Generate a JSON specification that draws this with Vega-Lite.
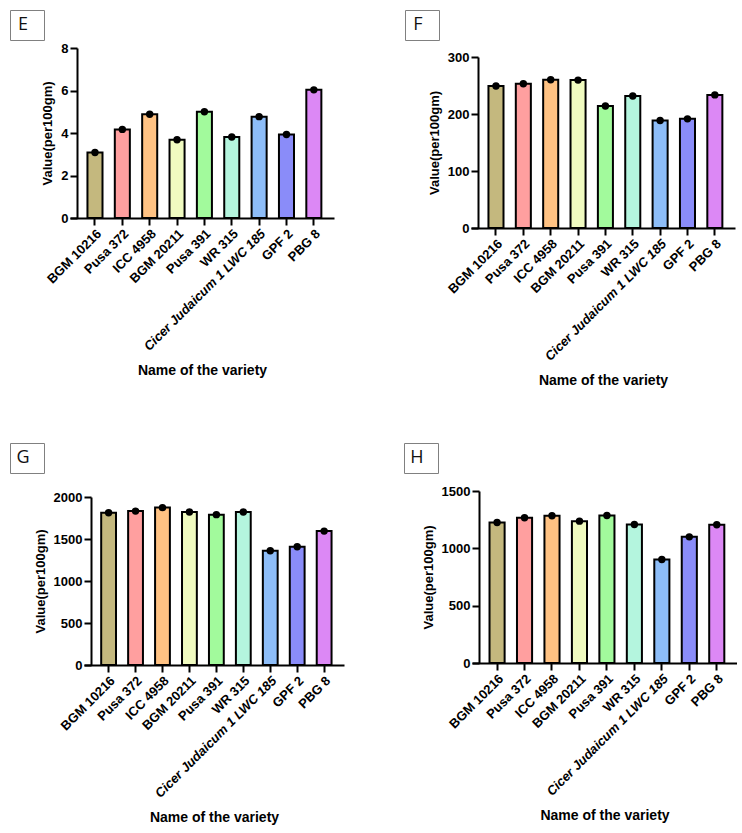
{
  "$schema": "https://vega.github.io/schema/vega-lite/v6.json",
  "padding": {"left": 9, "top": 9, "right": 0, "bottom": 0},
  "config": {
    "view": {"stroke": null},
    "axis": {"domainColor": "black", "domainWidth": 2, "tickColor": "black", "tickWidth": 2, "tickSize": 7, "labelFont": "Liberation Sans", "labelFontWeight": "bold", "labelFontSize": 13, "labelColor": "black", "titleFont": "Liberation Sans", "titleFontWeight": "bold", "titleFontSize": 13, "titleColor": "black", "grid": false, "labelPadding": 2, "titlePadding": 6},
    "axisX": {"titleFontSize": 14, "titlePadding": 10}
  },
  "datasets": {
    "E": [
      {"variety": "BGM 10216", "value": 3.08}, {"variety": "Pusa 372", "value": 4.17}, {"variety": "ICC 4958", "value": 4.88},
      {"variety": "BGM 20211", "value": 3.68}, {"variety": "Pusa 391", "value": 5.0}, {"variety": "WR 315", "value": 3.81},
      {"variety": "Cicer Judaicum 1 LWC 185", "value": 4.77}, {"variety": "GPF 2", "value": 3.93}, {"variety": "PBG 8", "value": 6.03}
    ],
    "F": [
      {"variety": "BGM 10216", "value": 249}, {"variety": "Pusa 372", "value": 253}, {"variety": "ICC 4958", "value": 260},
      {"variety": "BGM 20211", "value": 259.5}, {"variety": "Pusa 391", "value": 214}, {"variety": "WR 315", "value": 231.5},
      {"variety": "Cicer Judaicum 1 LWC 185", "value": 188.5}, {"variety": "GPF 2", "value": 191.5}, {"variety": "PBG 8", "value": 233.5}
    ],
    "G": [
      {"variety": "BGM 10216", "value": 1812}, {"variety": "Pusa 372", "value": 1832}, {"variety": "ICC 4958", "value": 1874},
      {"variety": "BGM 20211", "value": 1822}, {"variety": "Pusa 391", "value": 1790}, {"variety": "WR 315", "value": 1822},
      {"variety": "Cicer Judaicum 1 LWC 185", "value": 1360}, {"variety": "GPF 2", "value": 1407}, {"variety": "PBG 8", "value": 1594}
    ],
    "H": [
      {"variety": "BGM 10216", "value": 1225}, {"variety": "Pusa 372", "value": 1266}, {"variety": "ICC 4958", "value": 1284},
      {"variety": "BGM 20211", "value": 1237}, {"variety": "Pusa 391", "value": 1287}, {"variety": "WR 315", "value": 1208},
      {"variety": "Cicer Judaicum 1 LWC 185", "value": 903}, {"variety": "GPF 2", "value": 1100}, {"variety": "PBG 8", "value": 1206}
    ],
    "blank": [{"k": 1}]
  },
  "vconcat": [
    {
      "spacing": 70,
      "hconcat": [
        {
          "spacing": -4,
          "hconcat": [
            {"width": 34, "height": 30, "view": {"stroke": "#808080", "strokeWidth": 1}, "data": {"name": "blank"}, "mark": {"type": "text", "font": "Open Sans", "fontSize": 18, "color": "#111", "dx": -4}, "encoding": {"text": {"value": "E"}}},
            {
              "spacing": 0,
              "vconcat": [
                {"width": 1, "height": 32, "data": {"name": "blank"}, "mark": {"type": "text"}, "encoding": {"text": {"value": ""}}},
                {
                  "width": 264, "height": 170,
                  "data": {"name": "E"},
                  "encoding": {
                    "x": {"field": "variety", "type": "nominal", "sort": null, "scale": {"paddingInner": 0.45, "paddingOuter": 0.55, "align": 0.58}, "axis": {"title": "Name of the variety", "labelAngle": -45, "labelFontStyle": {"condition": {"test": "datum.value === 'Cicer Judaicum 1 LWC 185'", "value": "italic"}, "value": "normal"}}},
                    "y": {"field": "value", "type": "quantitative", "scale": {"domain": [0, 8], "nice": false}, "axis": {"title": "Value(per100gm)", "values": [0, 2, 4, 6, 8], "format": "d", "offset": -7}}
                  },
                  "layer": [
                    {"mark": {"type": "bar", "stroke": "black", "strokeWidth": 2}, "encoding": {"color": {"field": "variety", "type": "nominal", "legend": null, "scale": {"domain": ["BGM 10216", "Pusa 372", "ICC 4958", "BGM 20211", "Pusa 391", "WR 315", "Cicer Judaicum 1 LWC 185", "GPF 2", "PBG 8"], "range": ["#c4b87e", "#ff9f9f", "#ffc283", "#f0fbc0", "#a2fa9c", "#b4f5de", "#8dbdf8", "#8a8cf9", "#dc88f5"]}}}},
                    {"mark": {"type": "point", "filled": true, "color": "black", "size": 55, "opacity": 1}}
                  ]
                }
              ]
            }
          ]
        },
        {
          "spacing": -12,
          "hconcat": [
            {"width": 34, "height": 30, "view": {"stroke": "#808080", "strokeWidth": 1}, "data": {"name": "blank"}, "mark": {"type": "text", "font": "Open Sans", "fontSize": 18, "color": "#111", "dx": -4}, "encoding": {"text": {"value": "F"}}},
            {
              "spacing": 0,
              "vconcat": [
                {"width": 1, "height": 41, "data": {"name": "blank"}, "mark": {"type": "text"}, "encoding": {"text": {"value": ""}}},
                {
                  "width": 264, "height": 171,
                  "data": {"name": "F"},
                  "encoding": {
                    "x": {"field": "variety", "type": "nominal", "sort": null, "scale": {"paddingInner": 0.45, "paddingOuter": 0.55, "align": 0.58}, "axis": {"title": "Name of the variety", "labelAngle": -45, "labelFontStyle": {"condition": {"test": "datum.value === 'Cicer Judaicum 1 LWC 185'", "value": "italic"}, "value": "normal"}}},
                    "y": {"field": "value", "type": "quantitative", "scale": {"domain": [0, 300], "nice": false}, "axis": {"title": "Value(per100gm)", "values": [0, 100, 200, 300], "format": "d", "offset": -7}}
                  },
                  "layer": [
                    {"mark": {"type": "bar", "stroke": "black", "strokeWidth": 2}, "encoding": {"color": {"field": "variety", "type": "nominal", "legend": null, "scale": {"domain": ["BGM 10216", "Pusa 372", "ICC 4958", "BGM 20211", "Pusa 391", "WR 315", "Cicer Judaicum 1 LWC 185", "GPF 2", "PBG 8"], "range": ["#c4b87e", "#ff9f9f", "#ffc283", "#f0fbc0", "#a2fa9c", "#b4f5de", "#8dbdf8", "#8a8cf9", "#dc88f5"]}}}},
                    {"mark": {"type": "point", "filled": true, "color": "black", "size": 55, "opacity": 1}}
                  ]
                }
              ]
            }
          ]
        }
      ]
    },
    {
      "spacing": 59,
      "hconcat": [
        {
          "spacing": -11,
          "hconcat": [
            {"width": 34, "height": 30, "view": {"stroke": "#808080", "strokeWidth": 1}, "data": {"name": "blank"}, "mark": {"type": "text", "font": "Open Sans", "fontSize": 18, "color": "#111", "dx": -4}, "encoding": {"text": {"value": "G"}}},
            {
              "spacing": 0,
              "vconcat": [
                {"width": 1, "height": 48, "data": {"name": "blank"}, "mark": {"type": "text"}, "encoding": {"text": {"value": ""}}},
                {
                  "width": 260, "height": 168,
                  "data": {"name": "G"},
                  "encoding": {
                    "x": {"field": "variety", "type": "nominal", "sort": null, "scale": {"paddingInner": 0.45, "paddingOuter": 0.55, "align": 0.58}, "axis": {"title": "Name of the variety", "labelAngle": -45, "labelFontStyle": {"condition": {"test": "datum.value === 'Cicer Judaicum 1 LWC 185'", "value": "italic"}, "value": "normal"}}},
                    "y": {"field": "value", "type": "quantitative", "scale": {"domain": [0, 2000], "nice": false}, "axis": {"title": "Value(per100gm)", "values": [0, 500, 1000, 1500, 2000], "format": "d", "offset": -7}}
                  },
                  "layer": [
                    {"mark": {"type": "bar", "stroke": "black", "strokeWidth": 2}, "encoding": {"color": {"field": "variety", "type": "nominal", "legend": null, "scale": {"domain": ["BGM 10216", "Pusa 372", "ICC 4958", "BGM 20211", "Pusa 391", "WR 315", "Cicer Judaicum 1 LWC 185", "GPF 2", "PBG 8"], "range": ["#c4b87e", "#ff9f9f", "#ffc283", "#f0fbc0", "#a2fa9c", "#b4f5de", "#8dbdf8", "#8a8cf9", "#dc88f5"]}}}},
                    {"mark": {"type": "point", "filled": true, "color": "black", "size": 55, "opacity": 1}}
                  ]
                }
              ]
            }
          ]
        },
        {
          "spacing": -17,
          "hconcat": [
            {"width": 34, "height": 30, "view": {"stroke": "#808080", "strokeWidth": 1}, "data": {"name": "blank"}, "mark": {"type": "text", "font": "Open Sans", "fontSize": 18, "color": "#111", "dx": -4}, "encoding": {"text": {"value": "H"}}},
            {
              "spacing": 0,
              "vconcat": [
                {"width": 1, "height": 42, "data": {"name": "blank"}, "mark": {"type": "text"}, "encoding": {"text": {"value": ""}}},
                {
                  "width": 265, "height": 172,
                  "data": {"name": "H"},
                  "encoding": {
                    "x": {"field": "variety", "type": "nominal", "sort": null, "scale": {"paddingInner": 0.45, "paddingOuter": 0.55, "align": 0.58}, "axis": {"title": "Name of the variety", "labelAngle": -45, "labelFontStyle": {"condition": {"test": "datum.value === 'Cicer Judaicum 1 LWC 185'", "value": "italic"}, "value": "normal"}}},
                    "y": {"field": "value", "type": "quantitative", "scale": {"domain": [0, 1500], "nice": false}, "axis": {"title": "Value(per100gm)", "values": [0, 500, 1000, 1500], "format": "d", "offset": -7}}
                  },
                  "layer": [
                    {"mark": {"type": "bar", "stroke": "black", "strokeWidth": 2}, "encoding": {"color": {"field": "variety", "type": "nominal", "legend": null, "scale": {"domain": ["BGM 10216", "Pusa 372", "ICC 4958", "BGM 20211", "Pusa 391", "WR 315", "Cicer Judaicum 1 LWC 185", "GPF 2", "PBG 8"], "range": ["#c4b87e", "#ff9f9f", "#ffc283", "#f0fbc0", "#a2fa9c", "#b4f5de", "#8dbdf8", "#8a8cf9", "#dc88f5"]}}}},
                    {"mark": {"type": "point", "filled": true, "color": "black", "size": 55, "opacity": 1}}
                  ]
                }
              ]
            }
          ]
        }
      ]
    }
  ],
  "spacing": 54
}
